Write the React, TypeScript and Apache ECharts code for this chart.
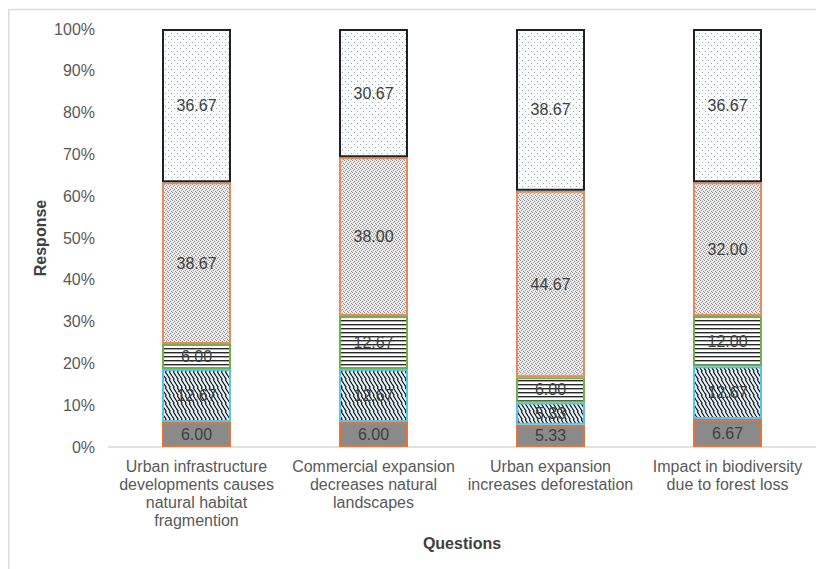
import React, { useEffect, useRef } from "react";
import * as echarts from "echarts";

const categories = [
  "Urban infrastructure\ndevelopments causes\nnatural habitat\nfragmention",
  "Commercial expansion\ndecreases natural\nlandscapes",
  "Urban expansion\nincreases deforestation",
  "Impact in biodiversity\ndue to forest loss",
];
const solidGrey = [6.0, 6.0, 5.33, 6.67];
const zigzag = [12.67, 12.67, 5.33, 12.67];
const hLines = [6.0, 12.67, 6.0, 12.0];
const denseDots = [38.67, 38.0, 44.67, 32.0];
const sparseDots = [36.67, 30.67, 38.67, 36.67];
const yTicks = [0, 10, 20, 30, 40, 50, 60, 70, 80, 90, 100];

const FONT = "'Liberation Sans', Arial, sans-serif";

function makeTile(w: number, h: number, draw: (ctx: CanvasRenderingContext2D) => void) {
  const c = document.createElement("canvas");
  c.width = w;
  c.height = h;
  const ctx = c.getContext("2d")!;
  draw(ctx);
  return { image: c.toDataURL(), repeat: "repeat", imageWidth: w, imageHeight: h } as any;
}

function px(ctx: CanvasRenderingContext2D, x: number, y: number, col: string) {
  ctx.fillStyle = col;
  ctx.fillRect(x, y, 1, 1);
}

export default function App() {
  const ref = useRef<HTMLDivElement>(null);
  useEffect(() => {
    if (!ref.current) return;
    const chart = echarts.init(ref.current, null, { renderer: "svg" });

    const sparsePat = makeTile(6, 6, (ctx) => {
      ctx.fillStyle = "#f9fcfd";
      ctx.fillRect(0, 0, 6, 6);
      px(ctx, 1, 1, "#a4a4a4");
      px(ctx, 4, 4, "#a4a4a4");
    });
    const densePat = makeTile(4, 4, (ctx) => {
      ctx.fillStyle = "#e6e6e6";
      ctx.fillRect(0, 0, 4, 4);
      px(ctx, 0, 0, "#929292");
      px(ctx, 2, 1, "#929292");
      px(ctx, 1, 2, "#a0a0a0");
      px(ctx, 3, 3, "#929292");
      px(ctx, 2, 3, "#f8f8f8");
      px(ctx, 0, 1, "#f8f8f8");
    });
    const linesPat = makeTile(4, 4, (ctx) => {
      ctx.fillStyle = "#ffffff";
      ctx.fillRect(0, 0, 4, 4);
      ctx.fillStyle = "#2a2a2a";
      ctx.fillRect(0, 0, 4, 1);
      ctx.fillStyle = "#a8a8a8";
      ctx.fillRect(0, 1, 4, 1);
    });
    const zigPat = makeTile(8, 8, (ctx) => {
      ctx.fillStyle = "#e6f5fb";
      ctx.fillRect(0, 0, 8, 8);
      ctx.strokeStyle = "#1a1a1a";
      ctx.lineWidth = 1.3;
      ctx.beginPath();
      for (let k = -8; k <= 16; k += 4) {
        ctx.moveTo(k, 0);
        ctx.lineTo(k + 2, 3);
        ctx.lineTo(k + 1.5, 4);
        ctx.lineTo(k + 4, 8);
      }
      ctx.stroke();
    });

    const fmt = (p: any) => Number(p.value).toFixed(2);
    const label = {
      show: true,
      position: "inside",
      formatter: fmt,
      color: "#404040",
      fontSize: 16,
      fontFamily: FONT,
    };
    const mk = (name: string, data: number[], color: any, border: string) => ({
      name,
      type: "bar",
      stack: "total",
      barWidth: 69,
      data,
      label,
      itemStyle: { color, borderColor: border, borderWidth: 2 },
      emphasis: { disabled: true },
    });

    chart.setOption({
      animation: false,
      backgroundColor: "#ffffff",
      graphic: [
        {
          type: "rect",
          shape: { x: 0.75, y: 1.5, width: 900, height: 900 },
          style: { fill: "none", stroke: "#dcdcdc", lineWidth: 1.5 },
          silent: true,
        },
      ],
      grid: { left: 100, right: 8, top: 21, bottom: 122, containLabel: false },
      xAxis: {
        type: "category",
        data: categories,
        name: "Questions",
        nameLocation: "middle",
        nameGap: 88,
        nameTextStyle: { fontFamily: FONT, fontSize: 16, fontWeight: "bold", color: "#404040" },
        axisLine: { lineStyle: { color: "#d9d9d9", width: 1.5 } },
        axisTick: { show: false },
        axisLabel: {
          interval: 0,
          fontFamily: FONT,
          fontSize: 16,
          lineHeight: 18,
          color: "#595959",
          margin: 10,
        },
      },
      yAxis: {
        type: "value",
        min: yTicks[0],
        max: yTicks[yTicks.length - 1],
        interval: 10,
        name: "Response",
        nameLocation: "middle",
        nameGap: 60,
        nameMoveOverlap: false,
        nameTextStyle: { fontFamily: FONT, fontSize: 16, fontWeight: "bold", color: "#404040" },
        axisLine: { show: false },
        axisTick: { show: false },
        splitLine: { show: false },
        axisLabel: {
          formatter: "{value}%",
          fontFamily: FONT,
          fontSize: 16,
          color: "#595959",
          margin: 13,
        },
      },
      series: [
        mk("Strongly disagree", solidGrey, "#8a8a8a", "#e2743a"),
        mk("Disagree", zigzag, zigPat, "#55c3ee"),
        mk("Neutral", hLines, linesPat, "#6fb04a"),
        mk("Agree", denseDots, densePat, "#e98a5c"),
        mk("Strongly agree", sparseDots, sparsePat, "#1e2226"),
      ],
    });
    return () => chart.dispose();
  }, []);
  return <div ref={ref} style={{ width: 816, height: 561 }} />;
}
